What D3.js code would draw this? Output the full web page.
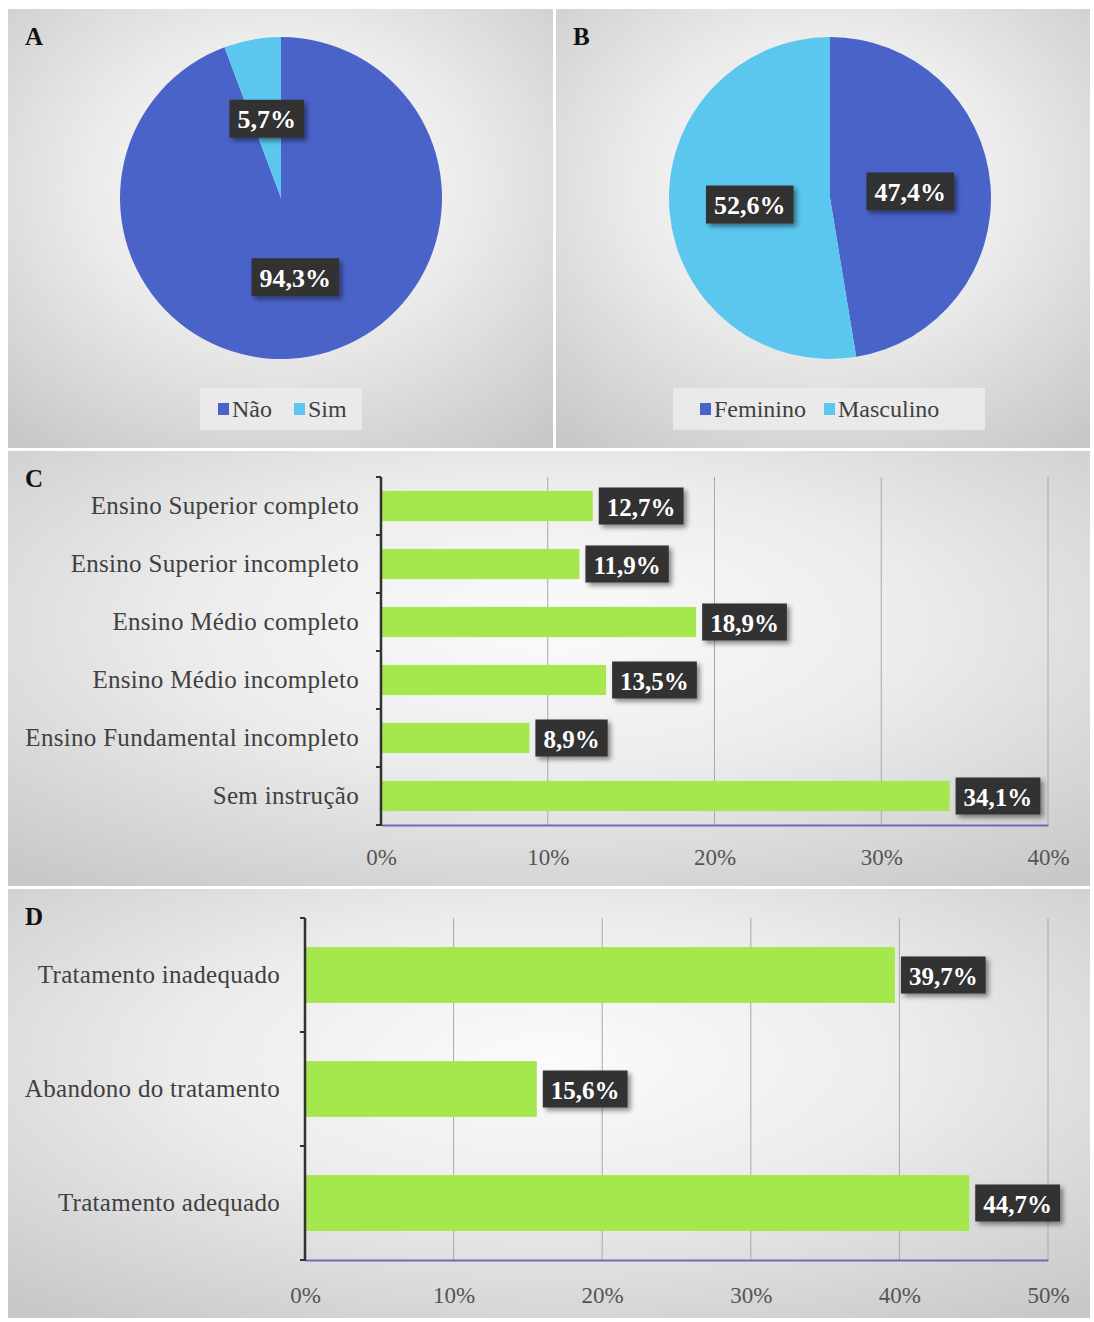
<!DOCTYPE html>
<html>
<head>
<meta charset="utf-8">
<script src="https://cdn.jsdelivr.net/npm/d3@7"></script>
<style>
  html, body { margin: 0; padding: 0; background: #ffffff; }
  svg { display: block; }
</style>
</head>
<body>
<svg id="chart" width="1094" height="1322"></svg>
<script>
// ---------------- DATA ----------------
const pieALabels = ["Não", "Sim"];
const pieAValues = [94.3, 5.7];

const pieBLabels = ["Feminino", "Masculino"];
const pieBValues = [47.4, 52.6];

const eduCategories = [
  "Ensino Superior completo",
  "Ensino Superior incompleto",
  "Ensino Médio completo",
  "Ensino Médio incompleto",
  "Ensino Fundamental incompleto",
  "Sem instrução"
];
const eduValues = [12.7, 11.9, 18.9, 13.5, 8.9, 34.1];
const eduTicks = [0, 10, 20, 30, 40];

const treatCategories = [
  "Tratamento inadequado",
  "Abandono do tratamento",
  "Tratamento adequado"
];
const treatValues = [39.7, 15.6, 44.7];
const treatTicks = [0, 10, 20, 30, 40, 50];

const panelLetters = ["A", "B", "C", "D"];

// ---------------- STYLE ----------------
const colDark = "#4a63c9";
const colLight = "#5bc7ef";
const colBar = "#a5e84d";
const serif = "'Liberation Serif', 'Times New Roman', serif";
const textGray = "#404040";

const locale = d3.formatLocale({decimal: ",", thousands: ".", grouping: [3], currency: ["", ""]});
const fmt = v => locale.format(".1f")(v) + "%";

const svg = d3.select("#chart");
const defs = svg.append("defs");

const grad = defs.append("radialGradient").attr("id", "bg")
  .attr("cx", "50%").attr("cy", "40%").attr("r", "75%");
grad.append("stop").attr("offset", "0%").attr("stop-color", "#fbfbfb");
grad.append("stop").attr("offset", "45%").attr("stop-color", "#ececec");
grad.append("stop").attr("offset", "100%").attr("stop-color", "#c8c8c8");

const shadow = defs.append("filter").attr("id", "shadow")
  .attr("x", "-20%").attr("y", "-30%").attr("width", "150%").attr("height", "180%");
shadow.append("feDropShadow").attr("dx", 3).attr("dy", 3).attr("stdDeviation", 2.5)
  .attr("flood-color", "#000").attr("flood-opacity", 0.45);

// panel frames
const panels = [
  {x: 8, y: 9, w: 545, h: 439},
  {x: 556, y: 9, w: 534, h: 439},
  {x: 8, y: 451, w: 1082, h: 435},
  {x: 8, y: 889, w: 1082, h: 429}
];
panels.forEach((p, i) => {
  svg.append("rect").attr("x", p.x).attr("y", p.y).attr("width", p.w).attr("height", p.h)
    .attr("fill", "url(#bg)");
  svg.append("text").attr("x", p.x + 17).attr("y", p.y + 36)
    .attr("font-family", serif).attr("font-weight", "bold").attr("font-size", 25)
    .attr("fill", "#111").text(panelLetters[i]);
});

function labelBox(g, x, y, text, fontSize, anchor) {
  const grp = g.append("g");
  const t = grp.append("text")
    .attr("font-family", serif).attr("font-weight", "bold").attr("font-size", fontSize)
    .attr("fill", "#ffffff").attr("dominant-baseline", "central")
    .text(text);
  const w = t.node().getComputedTextLength();
  const padX = 8, h = fontSize + 12;
  let left = anchor === "middle" ? x - (w + 2 * padX) / 2 : x;
  grp.insert("rect", "text")
    .attr("x", left).attr("y", y - h / 2).attr("width", w + 2 * padX).attr("height", h)
    .attr("fill", "#333333").attr("filter", "url(#shadow)");
  t.attr("x", left + padX).attr("y", y + 1);
}

// ---------------- PIES ----------------
function drawPie(cx, cy, r, labels, values, legendCfg) {
  const g = svg.append("g").attr("transform", `translate(${cx},${cy})`);
  const color = d3.scaleOrdinal().domain(labels).range([colDark, colLight]);
  const pie = d3.pie().sort(null).value(d => d.v);
  const data = pie(labels.map((l, i) => ({l, v: values[i]})));
  const arc = d3.arc().innerRadius(0).outerRadius(r);
  g.selectAll("path").data(data).join("path")
    .attr("d", arc).attr("fill", d => color(d.data.l));
  data.forEach(d => {
    const [x, y] = arc.centroid(d);
    labelBox(g, x, y, fmt(d.data.v), 26, "middle");
  });
  // legend
  const lg = svg.append("g");
  lg.append("rect").attr("x", legendCfg.x).attr("y", legendCfg.y)
    .attr("width", legendCfg.w).attr("height", 42)
    .attr("fill", "#ececec").attr("opacity", 0.85);
  let xx = legendCfg.x + legendCfg.pad;
  labels.forEach((l, i) => {
    lg.append("rect").attr("x", xx).attr("y", legendCfg.y + 15).attr("width", 11).attr("height", 12)
      .attr("fill", color(l));
    const t = lg.append("text").attr("x", xx + 14).attr("y", legendCfg.y + 29)
      .attr("font-family", serif).attr("font-size", 24).attr("fill", textGray).text(l);
    xx += 14 + t.node().getComputedTextLength() + legendCfg.gap;
  });
}
drawPie(281, 198, 161, pieALabels, pieAValues, {x: 200, y: 388, w: 162, pad: 18, gap: 22});
drawPie(830, 198, 161, pieBLabels, pieBValues, {x: 673, y: 388, w: 312, pad: 27, gap: 18});

// ---------------- BAR CHARTS ----------------
function drawBars(cats, vals, ticks, x0, x1, y0, y1, pInner, pOuter, xPad, yPad) {
  const g = svg.append("g");
  const xs = d3.scaleLinear().domain([0, d3.max(ticks)]).range([x0, x1]);
  const ys = d3.scaleBand().domain(cats).range([y0, y1]).paddingInner(pInner).paddingOuter(pOuter);

  // gridlines
  g.selectAll("line.grid").data(ticks.slice(1)).join("line")
    .attr("x1", d => xs(d)).attr("x2", d => xs(d)).attr("y1", y0).attr("y2", y1)
    .attr("stroke", "#a8a8a8").attr("stroke-width", 1);

  // bars
  g.selectAll("rect.bar").data(cats).join("rect")
    .attr("x", x0).attr("y", d => ys(d))
    .attr("width", (d, i) => xs(vals[i]) - x0).attr("height", ys.bandwidth())
    .attr("fill", colBar);

  // x axis
  const xAxis = d3.axisBottom(xs).tickValues(ticks).tickFormat(d => d + "%").tickSize(0).tickPadding(xPad);
  const xa = g.append("g").attr("transform", `translate(0,${y1})`).call(xAxis);
  xa.select(".domain").attr("stroke", "#6b6bc4").attr("stroke-width", 2);
  xa.selectAll("text").attr("font-family", serif).attr("font-size", 23).attr("fill", "#555");

  // y axis
  const yAxis = d3.axisLeft(ys).tickSize(0).tickPadding(yPad);
  const ya = g.append("g").attr("transform", `translate(${x0},0)`).call(yAxis);
  ya.select(".domain").remove();
  ya.selectAll("text").attr("font-family", serif).attr("font-size", 25).attr("fill", textGray)
    .attr("letter-spacing", 0.3);
  g.append("line").attr("x1", x0).attr("x2", x0).attr("y1", y0).attr("y2", y1 + 1)
    .attr("stroke", "#333").attr("stroke-width", 2.5);
  const bounds = d3.range(cats.length + 1).map(i => y0 + i * ys.step());
  g.selectAll("line.yt").data(bounds).join("line")
    .attr("x1", x0 - 5).attr("x2", x0).attr("y1", d => d).attr("y2", d => d)
    .attr("stroke", "#333").attr("stroke-width", 2);

  // labels
  cats.forEach((c, i) => {
    labelBox(g, xs(vals[i]) + 6, ys(c) + ys.bandwidth() / 2, fmt(vals[i]), 25, "start");
  });
}
drawBars(eduCategories, eduValues, eduTicks, 381, 1048, 477, 825, 0.48, 0.24, 24, 22);
drawBars(treatCategories, treatValues, treatTicks, 305, 1048, 918, 1260, 0.51, 0.255, 27, 25);
</script>
</body>
</html>
